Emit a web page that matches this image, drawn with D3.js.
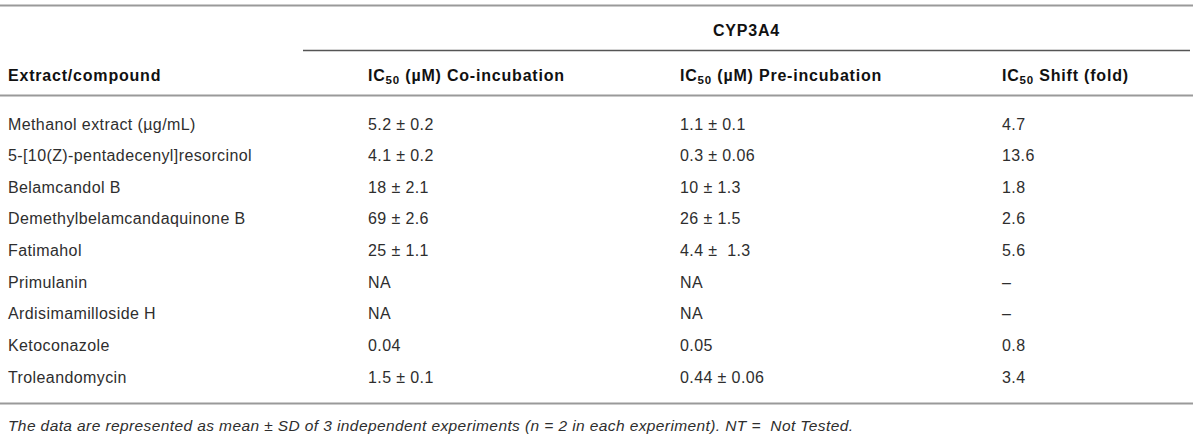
<!DOCTYPE html>
<html>
<head>
<meta charset="utf-8">
<script src="https://cdn.jsdelivr.net/npm/d3@7"></script>
<style>
  html, body { margin: 0; padding: 0; background: #fff; }
  svg { display: block; }
  text { white-space: pre; }
</style>
</head>
<body>
<div id="chart"></div>
<script>
// table contents
const compounds = [
    "Methanol extract (\u00b5g/mL)",
    "5-[10(Z)-pentadecenyl]resorcinol",
    "Belamcandol B",
    "Demethylbelamcandaquinone B",
    "Fatimahol",
    "Primulanin",
    "Ardisimamilloside H",
    "Ketoconazole",
    "Troleandomycin"
];
const coIncubation = ["5.2 \u00b1 0.2", "4.1 \u00b1 0.2", "18 \u00b1 2.1", "69 \u00b1 2.6", "25 \u00b1 1.1", "NA", "NA", "0.04", "1.5 \u00b1 0.1"];
const preIncubation = ["1.1 \u00b1 0.1", "0.3 \u00b1 0.06", "10 \u00b1 1.3", "26 \u00b1 1.5", "4.4 \u00b1  1.3", "NA", "NA", "0.05", "0.44 \u00b1 0.06"];
const shiftFold = ["4.7", "13.6", "1.8", "2.6", "5.6", "\u2013", "\u2013", "0.8", "3.4"];

const columnKeys = ["compound", "co", "pre", "shift"];
// header pieces: [main, subscript, rest]
const headers = [
    ["Extract/compound", "", ""],
    ["IC", "50", " (\u00b5M) Co-incubation"],
    ["IC", "50", " (\u00b5M) Pre-incubation"],
    ["IC", "50", " Shift (fold)"]
];
const groupTitle = "CYP3A4";
const footnote = "The data are represented as mean \u00b1 SD of 3 independent experiments (n = 2 in each experiment). NT =  Not Tested.";

const width = 1200, height = 440;
const fontFamily = "'Liberation Sans', Arial, sans-serif";
const textColor = "#2e2e2e";

const svg = d3.select("#chart")
    .append("svg")
    .attr("width", width)
    .attr("height", height);

// column positions
const x = d3.scaleOrdinal()
    .domain(columnKeys)
    .range([8, 368, 680, 1002]);

// row baselines
const y = d3.scalePoint()
    .domain(compounds)
    .range([129.5, 382.5]);

const rows = compounds.map((c, i) => ({
    compound: c,
    co: coIncubation[i],
    pre: preIncubation[i],
    shift: shiftFold[i]
}));

// rules
const rules = [
    {x1: 0, x2: 1193, y: 5.5, w: 2, c: "#9a9a9a"},
    {x1: 303, x2: 1190, y: 50.5, w: 1.4, c: "#555"},
    {x1: 0, x2: 1193, y: 95.5, w: 2, c: "#9a9a9a"},
    {x1: 0, x2: 1193, y: 403.5, w: 2, c: "#9a9a9a"}
];
svg.selectAll("line.rule")
    .data(rules)
    .enter()
    .append("line")
    .attr("class", "rule")
    .attr("x1", d => d.x1)
    .attr("x2", d => d.x2)
    .attr("y1", d => d.y)
    .attr("y2", d => d.y)
    .attr("stroke", d => d.c)
    .attr("stroke-width", d => d.w);

// group title over the three result columns
svg.append("text")
    .attr("x", (303 + 1190) / 2)
    .attr("y", 36)
    .attr("text-anchor", "middle")
    .attr("font-family", fontFamily)
    .attr("font-weight", "bold")
    .attr("font-size", 16)
    .attr("letter-spacing", 0.8)
    .attr("fill", "#111")
    .text(groupTitle);

// column headers
const head = svg.selectAll("text.head")
    .data(columnKeys)
    .enter()
    .append("text")
    .attr("class", "head")
    .attr("x", d => x(d))
    .attr("y", 81)
    .attr("font-family", fontFamily)
    .attr("font-weight", "bold")
    .attr("font-size", 16)
    .attr("letter-spacing", 0.8)
    .attr("fill", "#111");

head.each(function (d, i) {
    const t = d3.select(this);
    const h = headers[i];
    t.append("tspan").text(h[0]);
    if (h[1]) {
        t.append("tspan").attr("font-size", 11.5).attr("dy", 3).text(h[1]);
        t.append("tspan").attr("dy", -3).text(h[2]);
    }
});

// body cells
const rowG = svg.selectAll("g.row")
    .data(rows)
    .enter()
    .append("g")
    .attr("class", "row")
    .attr("transform", d => `translate(0,${y(d.compound)})`);

rowG.selectAll("text")
    .data(d => columnKeys.map(k => ({key: k, value: d[k]})))
    .enter()
    .append("text")
    .attr("x", d => x(d.key))
    .attr("y", 0)
    .attr("font-family", fontFamily)
    .attr("font-size", 16)
    .attr("letter-spacing", 0.4)
    .attr("fill", textColor)
    .text(d => d.value);

// footnote
svg.append("text")
    .attr("x", 8)
    .attr("y", 431)
    .attr("font-family", fontFamily)
    .attr("font-style", "italic")
    .attr("font-size", 15.5)
    .attr("letter-spacing", 0.4)
    .attr("fill", textColor)
    .text(footnote);
</script>
</body>
</html>
